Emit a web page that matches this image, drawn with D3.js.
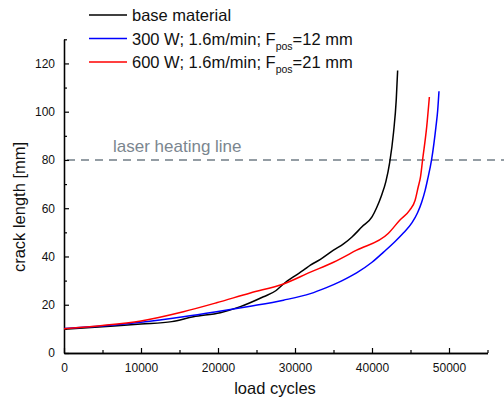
<!DOCTYPE html>
<html>
<head>
<meta charset="utf-8">
<script src="https://cdn.jsdelivr.net/npm/d3@7"></script>
<style>
  html, body { margin: 0; padding: 0; background: #fff; }
  svg { display: block; font-family: Arial, "Liberation Sans", sans-serif; }
</style>
</head>
<body>
<svg id="chart" width="504" height="403"></svg>
<script>
// ---- data ----
const baseCycles = [0, 5000, 10000, 14000, 16800, 20300, 22900, 25900, 27500, 28500, 30000, 31100, 32000, 33300, 35000, 36300, 37400, 38700, 40000, 40600, 41200, 41800, 42300, 42800, 43150, 43330];
const baseCrack  = [9.8, 10.9, 12.0, 13.0, 15.0, 16.7, 19.2, 23.3, 25.8, 28.6, 32.0, 34.3, 36.4, 38.8, 42.6, 45.2, 48.1, 52.3, 56.4, 60.2, 65.0, 71.0, 79.0, 91.5, 105.0, 117.1];

const w300Cycles = [0, 5000, 10000, 15500, 19800, 24200, 28500, 32000, 34000, 36000, 38000, 40000, 41500, 43000, 44100, 45200, 45900, 46450, 46900, 47200, 47750, 48300, 48530, 48700];
const w300Crack  = [10.2, 11.2, 12.7, 15.0, 17.1, 19.4, 21.9, 24.6, 27.0, 29.8, 33.2, 37.6, 41.8, 46.2, 49.8, 54.0, 58.0, 62.5, 67.4, 71.6, 80.3, 93.6, 100.5, 108.5];

const w600Cycles = [0, 5000, 10000, 15500, 19800, 24200, 28500, 32000, 35000, 38000, 42100, 43600, 44900, 45600, 46000, 46300, 46580, 47100, 47450];
const w600Crack  = [10.1, 11.4, 13.3, 17.1, 20.8, 24.9, 28.6, 33.5, 37.6, 42.6, 49.5, 55.0, 59.2, 63.3, 68.8, 73.0, 80.3, 93.6, 106.1];

const xMajorTicks = [0, 10000, 20000, 30000, 40000, 50000];
const xMinorTicks = [5000, 15000, 25000, 35000, 45000, 55000];
const yMajorTicks = [0, 20, 40, 60, 80, 100, 120];
const yMinorTicks = [10, 30, 50, 70, 90, 110, 130];

const laserLevel = 80;
const laserLabel = "laser heating line";
const xTitle = "load cycles";
const yTitle = "crack length [mm]";

const seriesNames = ["base material", "300 W; 1.6m/min; F", "600 W; 1.6m/min; F"];
const seriesSubs  = ["", "pos", "pos"];
const seriesTails = ["", "=12 mm", "=21 mm"];
const seriesColors = ["#000000", "#0000ff", "#ff0000"];

// ---- chart ----
const svg = d3.select("#chart");
const x = d3.scaleLinear().domain([0, 55000]).range([64, 487.5]);
const y = d3.scaleLinear().domain([0, 130]).range([353, 39.3]);

const series = [
  { cyc: baseCycles, val: baseCrack },
  { cyc: w300Cycles, val: w300Crack },
  { cyc: w600Cycles, val: w600Crack }
];

// laser heating line
svg.append("line")
  .attr("x1", x(0) + 3).attr("x2", 504)
  .attr("y1", y(laserLevel)).attr("y2", y(laserLevel))
  .attr("stroke", "#717d87").attr("stroke-width", 1.5)
  .attr("stroke-dasharray", "8,6");
svg.append("text")
  .attr("x", 113).attr("y", 152)
  .attr("font-size", 17).attr("fill", "#7b868f")
  .text(laserLabel);

// axes
function styleAxis(g) {
  g.selectAll("path.domain").attr("stroke", "#000").attr("stroke-width", 1.3);
  g.selectAll(".tick line").attr("stroke", "#000").attr("stroke-width", 1.2);
  g.selectAll(".tick text").attr("font-size", 12).attr("fill", "#111").attr("font-family", "Arial, 'Liberation Sans', sans-serif");
}

const gxMinor = svg.append("g").attr("transform", `translate(0,${y(0)})`)
  .call(d3.axisBottom(x).tickValues(xMinorTicks).tickSize(-3).tickSizeOuter(0).tickFormat(""));
const gx = svg.append("g").attr("transform", `translate(0,${y(0)})`)
  .call(d3.axisBottom(x).tickValues(xMajorTicks).tickSize(-5).tickSizeOuter(0).tickPadding(10).tickFormat(d3.format("d")));
styleAxis(gxMinor); styleAxis(gx);

const gyMinor = svg.append("g").attr("transform", `translate(${x(0)},0)`)
  .call(d3.axisLeft(y).tickValues(yMinorTicks).tickSize(-3).tickSizeOuter(0).tickFormat(""));
const gy = svg.append("g").attr("transform", `translate(${x(0)},0)`)
  .call(d3.axisLeft(y).tickValues(yMajorTicks).tickSize(-5).tickSizeOuter(0).tickPadding(9).tickFormat(d3.format("d")));
styleAxis(gyMinor); styleAxis(gy);

// curves
const line = d3.line()
  .x(d => x(d[0])).y(d => y(d[1]))
  .curve(d3.curveMonotoneX);

series.forEach((s, i) => {
  const pts = s.cyc.map((c, k) => [c, s.val[k]]);
  svg.append("path")
    .datum(pts)
    .attr("d", line)
    .attr("fill", "none")
    .attr("stroke", seriesColors[i])
    .attr("stroke-width", 1.5)
    .attr("stroke-linejoin", "round");
});

// axis titles
svg.append("text")
  .attr("x", 275).attr("y", 394)
  .attr("text-anchor", "middle").attr("font-size", 16.5).attr("fill", "#111")
  .text(xTitle);
svg.append("text")
  .attr("transform", "translate(25,207) rotate(-90)")
  .attr("text-anchor", "middle").attr("font-size", 16.5).attr("fill", "#111")
  .text(yTitle);

// legend
const legendRows = [15, 38.5, 62];
seriesNames.forEach((name, i) => {
  const ly = legendRows[i];
  svg.append("line")
    .attr("x1", 89).attr("x2", 127)
    .attr("y1", ly).attr("y2", ly)
    .attr("stroke", seriesColors[i]).attr("stroke-width", 1.5);
  const t = svg.append("text")
    .attr("x", 132).attr("y", ly + 6)
    .attr("font-size", 16.5).attr("fill", "#111");
  t.append("tspan").text(name);
  if (seriesSubs[i]) {
    t.append("tspan").attr("font-size", 10.5).attr("dy", 5).text(seriesSubs[i]);
    t.append("tspan").attr("dy", -5).text(seriesTails[i]);
  }
});
</script>
</body>
</html>
